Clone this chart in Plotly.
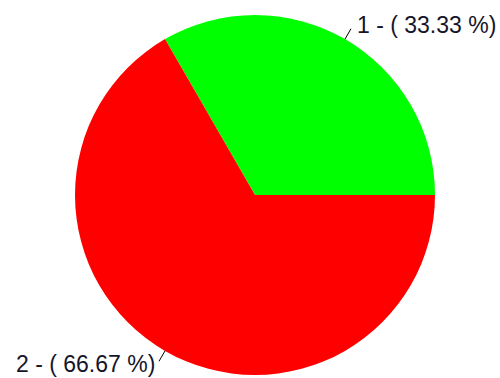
import math
import plotly.graph_objects as go

# Pie data
labels = ["1", "2"]
values = [1, 2]
colors = ["#00FF00", "#FF0000"]

W, H = 500, 378
CX, CY, R = 255, 195, 180  # pie centre and radius in pixels
START_DEG = 0  # first slice starts at 3 o'clock and runs counterclockwise

total = sum(values)
percents = [v / total * 100 for v in values]

# plotly measures rotation clockwise from 12 o'clock; the first slice spans
# [rotation, rotation + its angle] in that frame
first_span = values[0] / total * 360
rotation = 90 - START_DEG - first_span

fig = go.Figure(
    go.Pie(
        labels=labels,
        values=values,
        marker=dict(colors=colors, line=dict(width=0)),
        sort=False,
        direction="counterclockwise",
        rotation=rotation,
        textinfo="none",
        hoverinfo="label+percent",
        domain=dict(x=[(CX - R) / W, (CX + R) / W], y=[1 - (CY + R) / H, 1 - (CY - R) / H]),
        showlegend=False,
    )
)


def px_to_paper(x, y):
    return x / W, 1 - y / H


annotations = []
shapes = []
start = START_DEG
for lab, v, p in zip(labels, values, percents):
    span = v / total * 360
    mid = math.radians(start + span / 2)
    start += span
    x0, y0 = CX + R * math.cos(mid), CY - R * math.sin(mid)
    x1, y1 = CX + (R + 12) * math.cos(mid), CY - (R + 12) * math.sin(mid)
    a0 = px_to_paper(x0, y0)
    a1 = px_to_paper(x1, y1)
    shapes.append(dict(type="line", xref="paper", yref="paper", x0=a0[0], y0=a0[1], x1=a1[0], y1=a1[1],
                       line=dict(color="black", width=1)))
    right = math.cos(mid) >= 0
    annotations.append(dict(
        x=a1[0], y=a1[1], xref="paper", yref="paper",
        text=f"{lab} - ( {p:.2f} %)",
        showarrow=False,
        xanchor="left" if right else "right",
        yanchor="middle",
        xshift=4 if right else -2,
        yshift=4 if right else -3,
        font=dict(family="Liberation Sans, Arial, sans-serif", size=23, color="#15152a"),
    ))

fig.update_layout(
    width=W, height=H,
    margin=dict(l=0, r=0, t=0, b=0),
    paper_bgcolor="white",
    plot_bgcolor="white",
    annotations=annotations,
    shapes=shapes,
)

fig.write_html("out.html")
